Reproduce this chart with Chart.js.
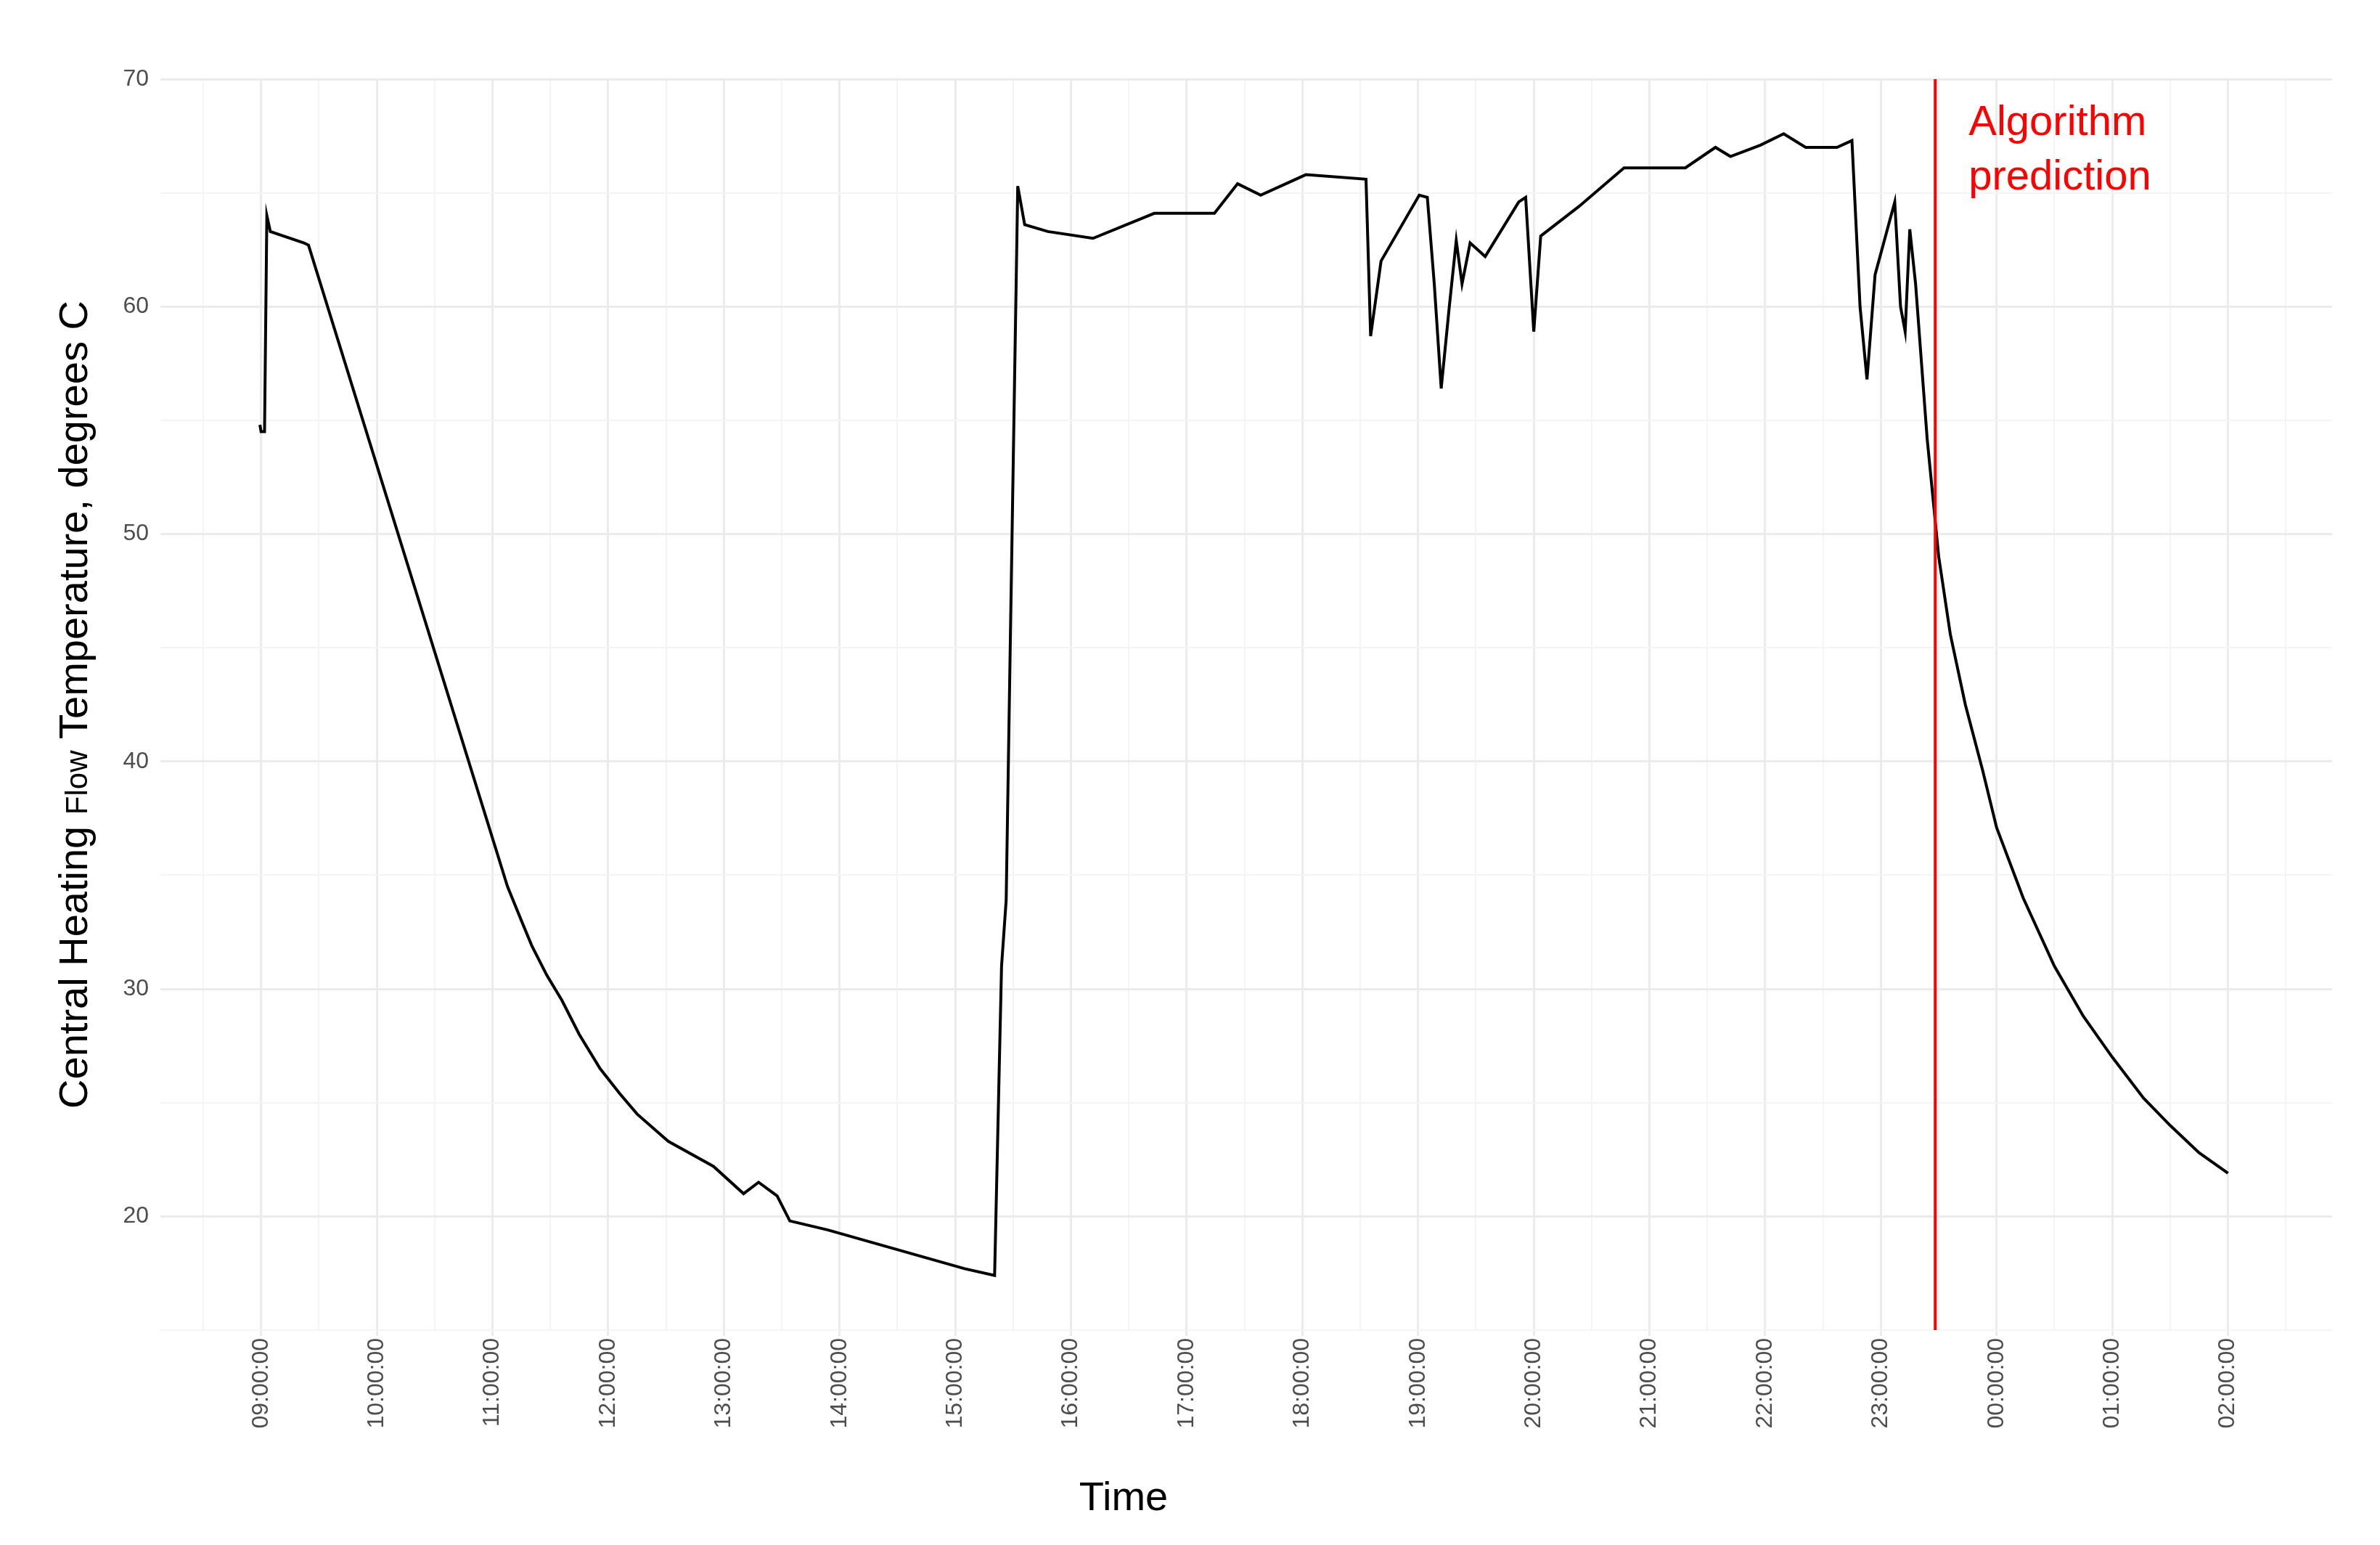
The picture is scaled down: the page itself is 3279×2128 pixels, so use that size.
<!DOCTYPE html>
<html>
<head>
<meta charset="utf-8">
<script src="https://cdn.jsdelivr.net/npm/chart.js@4"></script>
<style>
  html, body { margin: 0; padding: 0; background: #fff; }
  #chart { display: block; }
</style>
</head>
<body>
<canvas id="chart" width="3279" height="2128"></canvas>
<script>
// hours after 09:00
const hours = [-0.01, 0.0, 0.03, 0.05, 0.08, 0.37, 0.41, 2.13, 2.25, 2.34, 2.47, 2.6, 2.75, 2.93, 3.1, 3.25, 3.52, 3.91, 4.17, 4.3, 4.46, 4.57, 4.9,
  6.08, 6.34, 6.38, 6.4, 6.44, 6.48, 6.54, 6.6, 6.8, 7.19, 7.72, 8.24, 8.44, 8.64, 9.03, 9.55, 9.59, 9.68, 10.01, 10.08,
  10.14, 10.2, 10.27, 10.33, 10.38, 10.45, 10.58, 10.87, 10.93, 11.0, 11.06, 11.39, 11.78, 12.31, 12.57, 12.7, 12.96,
  13.16, 13.35, 13.62, 13.75, 13.82, 13.88, 13.95, 14.12, 14.17, 14.21, 14.25, 14.3,
  14.4, 14.5, 14.6, 14.73, 14.88, 15.0, 15.23, 15.5, 15.75, 16.0, 16.27, 16.5, 16.75, 17.0];
const temps = [54.8, 54.5, 54.5, 64.0, 63.3, 62.8, 62.7, 34.5, 33.0, 31.9, 30.6, 29.5, 28.0, 26.5, 25.4, 24.5, 23.3, 22.2, 21.0, 21.5, 20.9, 19.8, 19.4,
  17.7, 17.4, 26.5, 31.0, 33.9, 46.6, 65.3, 63.6, 63.3, 63.0, 64.1, 64.1, 65.4, 64.9, 65.8, 65.6, 58.7, 62.0, 64.9, 64.8,
  61.0, 56.4, 60.0, 62.9, 61.0, 62.8, 62.2, 64.6, 64.8, 58.9, 63.1, 64.4, 66.1, 66.1, 67.0, 66.6, 67.1,
  67.6, 67.0, 67.0, 67.3, 60.0, 56.8, 61.4, 64.6, 60.0, 58.9, 63.4, 61.0,
  54.2, 49.0, 45.6, 42.5, 39.6, 37.1, 34.0, 31.0, 28.8, 27.0, 25.2, 24.0, 22.8, 21.9];
const hourLabels = ['09:00:00','10:00:00','11:00:00','12:00:00','13:00:00','14:00:00','15:00:00','16:00:00','17:00:00',
  '18:00:00','19:00:00','20:00:00','21:00:00','22:00:00','23:00:00','00:00:00','01:00:00','02:00:00'];
const yTicks = [20, 30, 40, 50, 60, 70];
const predictionAt = 14.47;

const xTickValues = [];
for (let h = -0.5; h <= 17.5; h += 0.5) xTickValues.push(h);
const yTickValues = [];
for (let v = 15; v <= 70; v += 5) yTickValues.push(v);

const extras = {
  id: 'extras',
  afterDatasetsDraw(chart) {
    const { ctx, chartArea, scales } = chart;
    const px = scales.x.getPixelForValue(predictionAt);
    ctx.save();
    ctx.strokeStyle = '#ff0000';
    ctx.lineWidth = 4;
    ctx.beginPath();
    ctx.moveTo(px, chartArea.top);
    ctx.lineTo(px, chartArea.bottom);
    ctx.stroke();
    ctx.fillStyle = '#ff0000';
    ctx.font = '58px "Liberation Sans", Arial, sans-serif';
    ctx.textBaseline = 'middle';
    ctx.fillText('Algorithm', px + 46, 170);
    ctx.fillText('prediction', px + 46, 245);

    // axis titles
    ctx.fillStyle = '#000';
    ctx.font = '56px "Liberation Sans", Arial, sans-serif';
    ctx.textAlign = 'center';
    ctx.fillText('Time', 1548, 2065);

    ctx.translate(102, (chartArea.top + chartArea.bottom) / 2);
    ctx.rotate(-Math.PI / 2);
    const parts = [['Central Heating ', 56], ['Flow', 42], [' Temperature, degrees C', 56]];
    let total = 0;
    parts.forEach(p => { ctx.font = p[1] + 'px "Liberation Sans", Arial, sans-serif'; total += ctx.measureText(p[0]).width; });
    let x = -total / 2;
    ctx.textAlign = 'left';
    ctx.textBaseline = 'alphabetic';
    parts.forEach(p => {
      ctx.font = p[1] + 'px "Liberation Sans", Arial, sans-serif';
      ctx.fillText(p[0], x, 18);
      x += ctx.measureText(p[0]).width;
    });
    ctx.restore();
  }
};

new Chart(document.getElementById('chart'), {
  type: 'line',
  data: {
    datasets: [{
      data: hours.map((h, i) => ({ x: h, y: temps[i] })),
      borderColor: '#000',
      borderWidth: 4,
      pointRadius: 0,
      tension: 0,
      fill: false
    }]
  },
  options: {
    responsive: false,
    animation: false,
    devicePixelRatio: 1,
    layout: { padding: { top: 109, right: 66, left: 0, bottom: 0 } },
    plugins: { legend: { display: false }, tooltip: { enabled: false } },
    scales: {
      x: {
        type: 'linear',
        min: -0.87,
        max: 17.9,
        afterBuildTicks: s => { s.ticks = xTickValues.map(v => ({ value: v })); },
        afterFit: s => { s.height = 296; },
        border: { display: false },
        grid: {
          color: c => Number.isInteger(c.tick.value) ? '#ebebeb' : '#f4f4f4',
          lineWidth: c => Number.isInteger(c.tick.value) ? 3 : 2,
          drawTicks: true,
          tickLength: 8,
          tickColor: c => Number.isInteger(c.tick.value) ? '#ebebeb' : 'rgba(0,0,0,0)'
        },
        ticks: {
          autoSkip: false,
          minRotation: 90,
          maxRotation: 90,
          color: '#4d4d4d',
          font: { size: 32, family: '"Liberation Sans", Arial, sans-serif' },
          callback: v => (Number.isInteger(v) && v >= 0 && v <= 17) ? hourLabels[v] : ''
        }
      },
      y: {
        min: 15,
        max: 70,
        afterBuildTicks: s => { s.ticks = yTickValues.map(v => ({ value: v })); },
        afterFit: s => { s.width = 221; },
        border: { display: false },
        grid: {
          color: c => yTicks.includes(c.tick.value) ? '#ebebeb' : '#f4f4f4',
          lineWidth: c => yTicks.includes(c.tick.value) ? 3 : 2,
          drawTicks: false
        },
        ticks: {
          padding: 16,
          color: '#4d4d4d',
          font: { size: 32, family: '"Liberation Sans", Arial, sans-serif' },
          callback: v => yTicks.includes(v) ? String(v) : ''
        }
      }
    }
  },
  plugins: [extras]
});
</script>
</body>
</html>
